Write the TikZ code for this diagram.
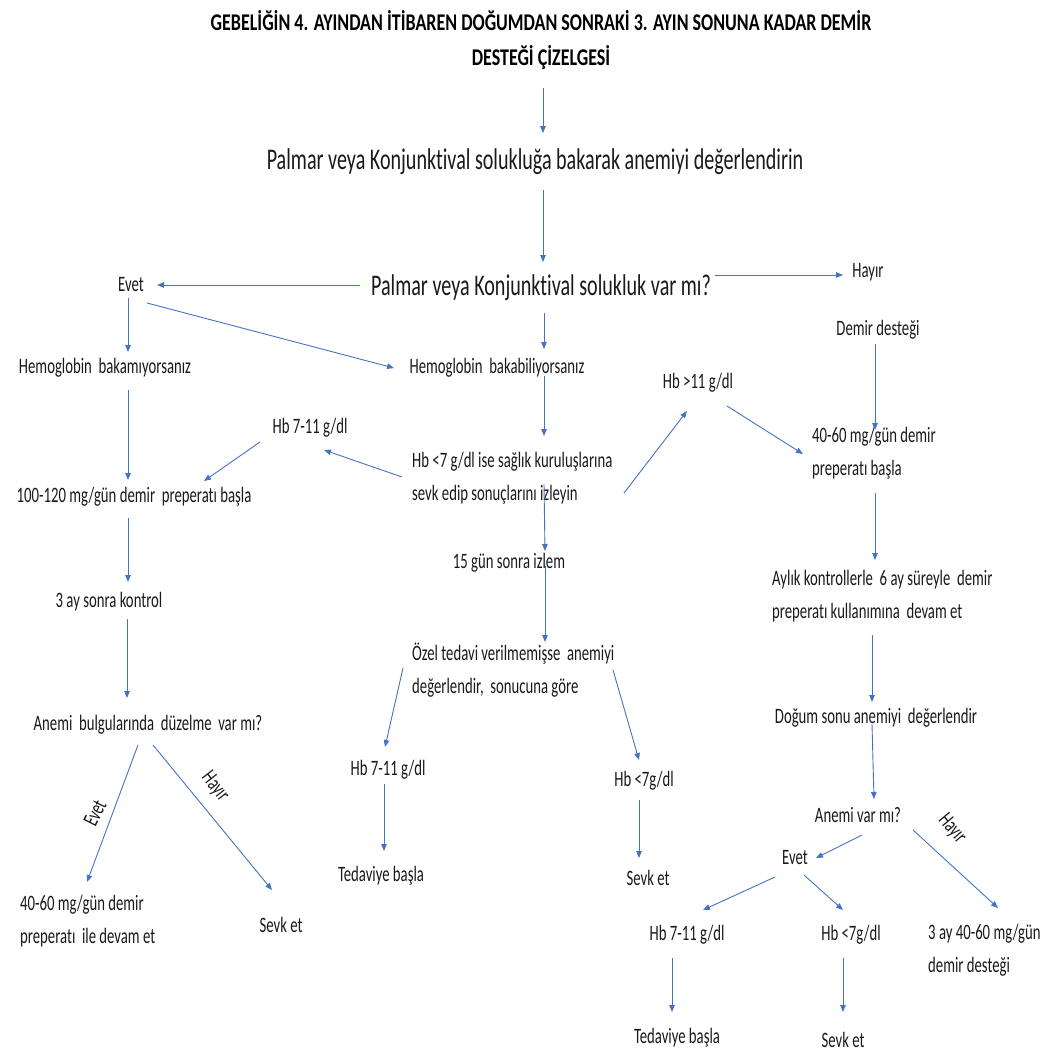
\documentclass[tikz,border=0pt]{standalone}
\usepackage{fontspec}
\setmainfont{Carlito}[FakeStretch=0.67,Ligatures=NoCommon]
\newfontfamily\ttlfont{Carlito}[FakeStretch=0.75,Ligatures=NoCommon]
\usetikzlibrary{arrows.meta,calc}
\definecolor{arrblue}{HTML}{4472C4}
\tikzset{
  arr/.style={draw=arrblue,line width=0.9pt,-{Triangle[length=7pt,width=5.5pt]}},
  txt/.style={inner sep=0pt,font=\fontsize{22}{33}\selectfont,text=black!90},
  mtxt/.style={txt,align=left,anchor=west},
  big/.style={inner sep=0pt,font=\fontsize{30}{36}\selectfont,text=black!90},
  ttl/.style={inner sep=0pt,align=center,font=\ttlfont\bfseries\fontsize{24}{35}\selectfont,text=black},
}
\begin{document}
\begin{tikzpicture}[x=1pt,y=-1pt]
\useasboundingbox (0,0) rectangle (1055,1052);
% nodes
\node[ttl] (title) at (541,40) {GEBELİĞİN 4. AYINDAN İTİBAREN DOĞUMDAN SONRAKİ 3. AYIN SONUNA KADAR DEMİR\\DESTEĞİ ÇİZELGESİ};
\node[big] (p1) at (535,162) {Palmar veya Konjunktival solukluğa bakarak anemiyi değerlendirin};
\node[big] (p2) at (541,288) {Palmar veya Konjunktival solukluk var mı?};
\node[txt] (evet1) at (131,285) {Evet};
\node[txt] (hayir1) at (868,272) {Hayır};
\node[txt] (demir) at (878,330) {Demir desteği};
\node[mtxt] (b4060) at (812,453) {40-60 mg/gün demir\\preperatı başla};
\node[txt] (hb1) at (105,368) {Hemoglobin \ bakamıyorsanız};
\node[txt] (hb2) at (497,368) {Hemoglobin \ bakabiliyorsanız};
\node[txt] (d100) at (134,497) {100-120 mg/gün demir \ preperatı başla};
\node[mtxt] (hblt7) at (412,478) {Hb <7 g/dl ise sağlık kuruluşlarına\\sevk edip sonuçlarını izleyin};
\node[txt] (hb711a) at (310,428) {Hb 7-11 g/dl};
\node[txt] (hbgt11) at (698,383) {Hb >11 g/dl};
\node[txt] (gun15) at (509,563) {15 gün sonra izlem};
\node[mtxt] (ozel) at (412,670) {Özel tedavi verilmemişse \ anemiyi\\değerlendir, \ sonucuna göre};
\node[txt] (hb711b) at (388,770) {Hb 7-11 g/dl};
\node[txt] (ted1) at (381,876) {Tedaviye başla};
\node[txt] (hblt7b) at (644,781) {Hb <7g/dl};
\node[txt] (sevk1) at (648,878) {Sevk et};
\node[txt] (ay3) at (109,602) {3 ay sonra kontrol};
\node[txt] (anemib) at (148,725) {Anemi \ bulgularında \ düzelme \ var mı?};
\node[mtxt] (d4060b) at (20,921) {40-60 mg/gün demir\\preperatı \ ile devam et};
\node[txt] (sevk2) at (281,925) {Sevk et};
\node[txt,rotate=63] (evetlbl) at (95,813) {Evet};
\node[txt,rotate=-52] (hayirlbl) at (215,787) {Hayır};
\node[mtxt] (aylik) at (772,596) {Aylık kontrollerle \ 6 ay süreyle \ demir\\preperatı kullanımına \ devam et};
\node[txt] (dogum) at (876,718) {Doğum sonu anemiyi \ değerlendir};
\node[txt] (anemivar) at (858,815) {Anemi var mı?};
\node[txt] (evet2) at (795,858) {Evet};
\node[txt,rotate=-50] (hayirlbl2) at (952,829) {Hayır};
\node[mtxt] (d4060c) at (928,950) {3 ay 40-60 mg/gün\\demir desteği};
\node[txt] (hb711c) at (687,935) {Hb 7-11 g/dl};
\node[txt] (hblt7c) at (851,935) {Hb <7g/dl};
\node[txt] (ted2) at (677,1038) {Tedaviye başla};
\node[txt] (sevk3) at (843,1040) {Sevk et};
% connectors
\draw[arr] ($(title)+(2,48)$) -- ($(p1)+(8,-29)$);
\draw[arr] ($(p1)+(8,28)$) -- ($(p2)+(2,-26)$);
\draw[arr] ($(p2)+(-181,-3)$) -- ($(evet1)+(26,0)$);
\draw[arr] ($(p2)+(174,-13)$) -- ($(hayir1)+(-25,3)$);
\draw[arr] ($(demir)+(-3,14)$) -- ($(b4060.west)+(63,-23)$);
\draw[arr] ($(evet1)+(-3,13)$) -- ($(hb1)+(23,-16)$);
\draw[arr] ($(evet1)+(16,18)$) -- ($(hb2)+(-103,0)$);
\draw[arr] ($(p2)+(3,25)$) -- ($(hb2)+(47,-19)$);
\draw[arr] ($(hb1)+(23,22)$) -- ($(d100)+(-6,-17)$);
\draw[arr] ($(hb2)+(47,8)$) -- ($(hblt7.west)+(132,-42)$);
\draw[arr] ($(hblt7.west)+(-10,-1)$) -- ($(hb711a)+(14,22)$);
\draw[arr] ($(hb711a)+(-50,14)$) -- ($(d100)+(70,-16)$);
\draw[arr] ($(hblt7.west)+(212,15)$) -- ($(hbgt11)+(-11,28)$);
\draw[arr] ($(hbgt11)+(29,23)$) -- ($(b4060.west)+(-9,1)$);
\draw[arr] ($(hblt7.west)+(132,6)$) -- ($(gun15)+(36,-12)$);
\draw[arr] ($(gun15)+(36,3)$) -- ($(ozel.west)+(133,-28)$);
\draw[arr] ($(ozel.west)+(-9,-2)$) -- ($(hb711b)+(-3,-23)$);
\draw[arr] ($(hb711b)+(-4,14)$) -- ($(ted1)+(3,-25)$);
\draw[arr] ($(ozel.west)+(201,0)$) -- ($(hblt7b)+(-5,-21)$);
\draw[arr] ($(hblt7b)+(-5,19)$) -- ($(sevk1)+(-9,-20)$);
\draw[arr] ($(d100)+(-6,21)$) -- ($(ay3)+(19,-20)$);
\draw[arr] ($(ay3)+(18,17)$) -- ($(anemib)+(-21,-27)$);
\draw[arr] ($(anemib)+(-10,20)$) -- ($(d4060b.west)+(67,-39)$);
\draw[arr] ($(anemib)+(5,20)$) -- ($(sevk2)+(-9,-35)$);
\draw[arr] ($(b4060.west)+(63,40)$) -- ($(aylik.west)+(103,-36)$);
\draw[arr] ($(aylik.west)+(100,39)$) -- ($(dogum)+(-4,-16)$);
\draw[arr] ($(dogum)+(-4,6)$) -- ($(anemivar)+(16,-16)$);
\draw[arr] ($(anemivar)+(4,20)$) -- ($(evet2)+(21,0)$);
\draw[arr] ($(anemivar)+(55,15)$) -- ($(d4060c.west)+(70,-42)$);
\draw[arr] ($(evet2)+(-20,19)$) -- ($(hb711c)+(16,-25)$);
\draw[arr] ($(evet2)+(9,17)$) -- ($(hblt7c)+(-8,-25)$);
\draw[arr] ($(hb711c)+(-15,23)$) -- ($(ted2)+(-5,-26)$);
\draw[arr] ($(hblt7c)+(-8,23)$) -- ($(sevk3)+(0,-28)$);
\end{tikzpicture}
\end{document}
